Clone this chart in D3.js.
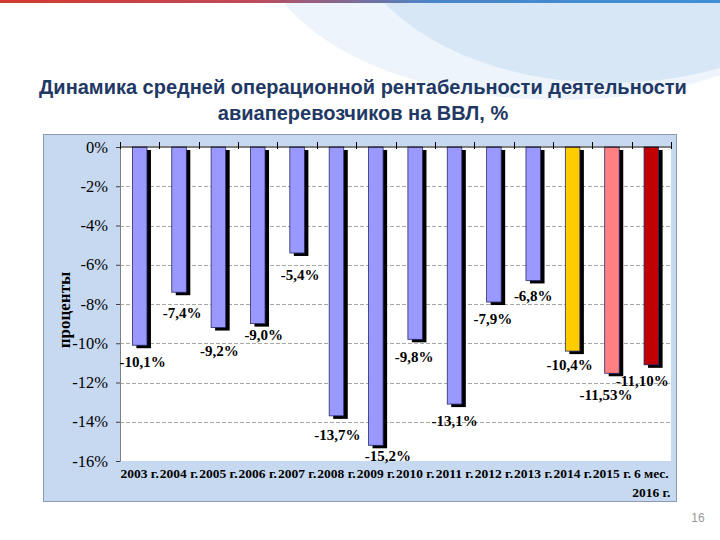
<!DOCTYPE html>
<html>
<head>
<meta charset="utf-8">
<script src="https://cdn.jsdelivr.net/npm/d3@7"></script>
<style>
  html, body { margin: 0; padding: 0; background: #ffffff; }
  svg { display: block; }
</style>
</head>
<body>
<script>
// ---- data ----
const categories = ["2003 г.", "2004 г.", "2005 г.", "2006 г.", "2007 г.", "2008 г.", "2009 г.",
  "2010 г.", "2011 г.", "2012 г.", "2013 г.", "2014 г.", "2015 г.", "6 мес.\n2016 г."];
const values = [-10.1, -7.4, -9.2, -9.0, -5.4, -13.7, -15.2, -9.8, -13.1, -7.9, -6.8, -10.4, -11.53, -11.10];
const valueLabels = ["-10,1%", "-7,4%", "-9,2%", "-9,0%", "-5,4%", "-13,7%", "-15,2%", "-9,8%",
  "-13,1%", "-7,9%", "-6,8%", "-10,4%", "-11,53%", "-11,10%"];
const yTicks = [0, -2, -4, -6, -8, -10, -12, -14, -16];
const yTickLabels = ["0%", "-2%", "-4%", "-6%", "-8%", "-10%", "-12%", "-14%", "-16%"];
const titleLines = ["Динамика средней операционной рентабельности деятельности", "авиаперевозчиков на ВВЛ, %"];
const yTitle = "проценты";
const pageNumber = "16";

// ---- styles ----
const barColors = ["#9999ff", "#9999ff", "#9999ff", "#9999ff", "#9999ff", "#9999ff", "#9999ff",
  "#9999ff", "#9999ff", "#9999ff", "#9999ff", "#ffcc00", "#ff8080", "#c00000"];
const labelNudge = [[3, 0], [3, 4], [1, 6], [6, -6], [3, 5], [1, 2], [12, -6], [-1, 1],
  [0, 0], [-1, 0], [0, -1], [-3, -3], [-6, 5], [-9, -1]];
const SERIF = "Liberation Serif, Times New Roman, Times, serif";
const SANS = "Liberation Sans, Arial, sans-serif";

const W = 720, H = 540;
const svg = d3.select("body").append("svg").attr("width", W).attr("height", H);

// background decoration
const defs = svg.append("defs");
const lg = defs.append("linearGradient").attr("id", "topline").attr("x1", "0").attr("x2", "1");
lg.append("stop").attr("offset", "0").attr("stop-color", "#d23a2e");
lg.append("stop").attr("offset", "0.35").attr("stop-color", "#c04a5a");
lg.append("stop").attr("offset", "0.6").attr("stop-color", "#4a86c8");
lg.append("stop").attr("offset", "1").attr("stop-color", "#3f8fd6");
defs.append("clipPath").attr("id", "page").append("rect").attr("width", W).attr("height", H);
const deco = svg.append("g").attr("clip-path", "url(#page)");
deco.append("ellipse").attr("cx", 560).attr("cy", -60).attr("rx", 300).attr("ry", 160).attr("fill", "#edf4fb");
deco.append("ellipse").attr("cx", 610).attr("cy", -85).attr("rx", 265).attr("ry", 168).attr("fill", "#d8e7f6");
deco.append("rect").attr("x", 0).attr("y", 0).attr("width", W).attr("height", 3).attr("fill", "url(#topline)");

// title
svg.append("g").selectAll("text").data(titleLines).join("text")
  .attr("x", 363).attr("y", (d, i) => 94 + i * 26)
  .attr("text-anchor", "middle")
  .attr("font-family", SANS)
  .attr("font-weight", "bold").attr("font-size", 20)
  .attr("fill", "#1f3864")
  .text(d => d);

// chart frame
svg.append("rect").attr("x", 43.5).attr("y", 134.5).attr("width", 633).attr("height", 367)
  .attr("fill", "#c6d9f0").attr("stroke", "#8b9bb0").attr("stroke-width", 1);

const plotL = 120, plotR = 671, plotT = 147, plotB = 461;
const x = d3.scaleBand().domain(categories).range([plotL, plotR]).paddingInner(0.63).paddingOuter(0.315);
const y = d3.scaleLinear().domain([-16, 0]).range([plotB, plotT]);
const edge = d3.scaleLinear().domain([0, categories.length]).range([plotL, plotR]);

// plot area
svg.append("rect").attr("x", plotL).attr("y", plotT - 1).attr("width", plotR - plotL).attr("height", plotB - plotT + 1)
  .attr("fill", "#ffffff");

// gridlines
svg.append("g").selectAll("line").data(yTicks.filter(t => t < 0 && t > -16)).join("line")
  .attr("x1", plotL).attr("x2", plotR)
  .attr("y1", d => Math.round(y(d)) + 0.5).attr("y2", d => Math.round(y(d)) + 0.5)
  .attr("stroke", "#a8a8a8").attr("stroke-width", 1).attr("stroke-dasharray", "4,2");

// y axis (line + ticks from d3 axis, labels drawn as own text)
const yAxis = svg.append("g").attr("transform", `translate(${plotL},0)`)
  .call(d3.axisLeft(y).tickValues(yTicks).tickFormat(() => "").tickSize(4));
yAxis.select(".domain").attr("stroke", "#808080");
yAxis.selectAll(".tick line").attr("stroke", "#404040");
svg.append("g").selectAll("text").data(yTicks).join("text")
  .attr("x", plotL - 12)
  .attr("y", d => y(d) + 5.5)
  .attr("text-anchor", "end")
  .attr("font-family", SERIF)
  .attr("font-size", 16.5)
  .attr("fill", "#000")
  .text((d, i) => yTickLabels[i]);

// y title
svg.append("text").attr("transform", "translate(70,310) rotate(-90)")
  .attr("text-anchor", "middle")
  .attr("font-family", SERIF)
  .attr("font-weight", "bold").attr("font-size", 17).attr("fill", "#000")
  .text(yTitle);

// bars with shadow
const bars = svg.append("g");
bars.selectAll("rect.shadow").data(values).join("rect").attr("class", "shadow")
  .attr("x", (d, i) => x(categories[i]) + 4)
  .attr("y", y(0) + 3)
  .attr("width", x.bandwidth())
  .attr("height", d => y(d) - y(0))
  .attr("fill", "#000");
bars.selectAll("rect.bar").data(values).join("rect").attr("class", "bar")
  .attr("x", (d, i) => x(categories[i]))
  .attr("y", y(0))
  .attr("width", x.bandwidth())
  .attr("height", d => y(d) - y(0))
  .attr("fill", (d, i) => barColors[i])
  .attr("stroke", "#2a2a6a").attr("stroke-width", 0.8);

// x axis line (at 0) with crossing ticks at category edges
const xa = svg.append("g");
xa.append("line").attr("x1", plotL).attr("x2", plotR).attr("y1", y(0)).attr("y2", y(0))
  .attr("stroke", "#000").attr("stroke-width", 1.2);
xa.selectAll("line.tk").data(d3.range(categories.length + 1)).join("line").attr("class", "tk")
  .attr("x1", d => Math.round(edge(d)) + 0.5).attr("x2", d => Math.round(edge(d)) + 0.5)
  .attr("y1", y(0) - 5).attr("y2", y(0) + 2)
  .attr("stroke", "#000").attr("stroke-width", 1);

// data labels
svg.append("g").selectAll("text").data(values).join("text")
  .attr("x", (d, i) => x(categories[i]) + x.bandwidth() / 2 + labelNudge[i][0])
  .attr("y", (d, i) => y(d) + 22 + labelNudge[i][1])
  .attr("text-anchor", "middle")
  .attr("font-family", SERIF)
  .attr("font-weight", "bold").attr("font-size", 15).attr("fill", "#000")
  .text((d, i) => valueLabels[i]);

// category labels
const cl = svg.append("g").selectAll("text").data(categories).join("text")
  .attr("x", d => x(d) + x.bandwidth() / 2)
  .attr("y", 478)
  .attr("text-anchor", "middle")
  .attr("font-family", SERIF)
  .attr("font-weight", "bold").attr("font-size", 13.5).attr("fill", "#000");
cl.each(function(d) {
  const parts = d.split("\n");
  d3.select(this).selectAll("tspan").data(parts).join("tspan")
    .attr("x", x(d) + x.bandwidth() / 2)
    .attr("dy", (p, j) => j === 0 ? 0 : 19)
    .text(p => p);
});

// page number
svg.append("text").attr("x", 698).attr("y", 522).attr("text-anchor", "middle")
  .attr("font-family", SANS).attr("font-size", 12)
  .attr("fill", "#999").text(pageNumber);
</script>
</body>
</html>
